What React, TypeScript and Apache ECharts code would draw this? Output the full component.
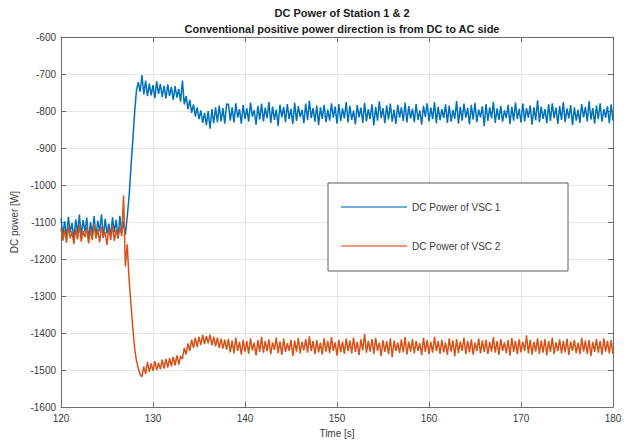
import React, { useEffect, useRef } from "react";
import * as echarts from "echarts";

const DT = 0.2;
const bluePreStart = 120.0;
const bluePre = [
  -1090, -1135, -1098, -1141, -1086, -1128, -1102, -1146, -1093, -1130,
  -1080, -1137, -1095, -1126, -1088, -1149, -1100, -1132, -1084, -1139,
  -1096, -1125, -1079, -1143, -1091, -1131, -1104, -1138, -1087, -1127,
  -1094, -1145, -1083, -1129, -1099, -1134,
];
const blueStepStart = 127.2;
const blueStep = [
  -1085, -1030, -955, -880, -805, -745, -722, -748, -703, -755,
  -718, -760, -726, -758, -730, -765, -720, -754, -727, -762,
  -732, -766, -728, -759, -735, -770, -733, -764, -740, -775,
  -718, -782, -760, -795, -770, -805, -782, -815, -790, -822,
  -798, -832, -805, -838, -800, -848, -795, -833, -790, -830,
  -785, -828, -792, -834, -781,
];
const blueSteadyStart = 138.2;
const blueSteady = [
  -782, -826, -790, -831, -779, -818, -795, -834, -784, -821,
  -793, -829, -777, -815, -798, -837, -786, -823, -780, -828,
  -791, -819, -775, -832, -788, -824, -796, -840, -783, -817,
  -789, -830, -781, -822, -794, -835, -778, -827, -787, -816,
  -797, -833, -780, -825, -772, -819, -792, -829, -785, -838,
  -790, -821, -783, -830, -796, -826, -779, -818, -788, -834,
  -781, -827, -793, -820, -776, -831, -786, -824, -799, -836,
  -784, -817, -791, -832, -778, -828, -795, -822, -782, -839,
  -789, -826, -774, -819, -792, -833, -785, -823, -780, -829,
  -796, -835, -783, -818, -790, -827, -777, -831, -787, -820,
  -794, -830, -781, -824, -798, -837, -786, -816, -779, -828,
  -791, -822, -776, -833, -788, -825, -795, -819, -782, -832,
  -785, -829, -797, -821, -773, -834, -789, -826, -780, -818,
  -792, -836, -784, -823, -778, -830, -796, -817, -787, -841,
  -781, -827, -790, -820, -775, -832, -793, -824, -786, -829,
  -798, -819, -783, -835, -789, -826, -777, -822, -794, -831,
  -780, -828, -792, -818, -785, -837, -790, -825, -771, -830,
  -788, -821, -795, -833, -782, -827, -779, -819, -791, -835,
  -786, -824, -776, -830, -793, -820, -784, -838, -790, -826,
  -797, -832, -781, -817, -789, -828, -774, -823, -792, -834,
  -785, -822, -779, -829, -795, -818, -787, -833, -782, -826,
];

const orangePreStart = 120.0;
const orangePre = [
  -1115, -1150, -1121, -1156, -1110, -1144, -1125, -1160, -1118, -1147,
  -1108, -1153, -1124, -1141, -1113, -1158, -1120, -1149, -1105, -1145,
  -1119, -1155, -1112, -1140, -1127, -1162, -1116, -1148, -1109, -1151,
  -1122, -1143, -1114, -1138,
];
const orangeStepStart = 126.8;
const orangeStep = [
  -1028, -1220, -1160, -1255, -1320, -1385, -1440, -1475, -1495, -1512,
  -1518, -1490, -1510, -1478, -1505, -1482, -1502, -1476, -1500, -1480,
  -1498, -1472, -1496, -1470, -1493, -1468, -1490, -1464, -1487, -1460,
  -1485, -1462, -1470, -1440, -1458, -1428, -1448, -1418, -1440, -1412,
  -1438, -1410, -1432, -1405, -1430, -1408, -1428, -1404, -1433, -1410,
  -1436, -1412, -1440, -1415, -1442, -1418, -1445,
];
const orangeSteadyStart = 138.2;
const orangeSteady = [
  -1416, -1452, -1420, -1455, -1413, -1448, -1424, -1458, -1418, -1450,
  -1422, -1456, -1414, -1447, -1426, -1460, -1419, -1451, -1410, -1453,
  -1421, -1449, -1417, -1457, -1425, -1446, -1412, -1454, -1423, -1459,
  -1415, -1451, -1427, -1448, -1418, -1462, -1420, -1450, -1413, -1455,
  -1424, -1447, -1416, -1453, -1409, -1449, -1422, -1457, -1419, -1452,
  -1426, -1458, -1414, -1450, -1421, -1454, -1411, -1448, -1425, -1461,
  -1418, -1452, -1423, -1456, -1415, -1449, -1420, -1455, -1412, -1451,
  -1424, -1459, -1417, -1447, -1402, -1453, -1421, -1450, -1416, -1456,
  -1413, -1448, -1426, -1462, -1419, -1451, -1422, -1457, -1414, -1465,
  -1420, -1449, -1425, -1454, -1417, -1452, -1411, -1458, -1423, -1450,
  -1416, -1455, -1421, -1448, -1427, -1460, -1413, -1451, -1419, -1457,
  -1424, -1453, -1410, -1449, -1422, -1456, -1418, -1452, -1425, -1459,
  -1414, -1450, -1420, -1463, -1416, -1454, -1423, -1448, -1412, -1457,
  -1421, -1452, -1417, -1458, -1426, -1449, -1415, -1455, -1420, -1451,
  -1418, -1456, -1424, -1450, -1411, -1453, -1422, -1459, -1416, -1448,
  -1425, -1454, -1419, -1461, -1413, -1451, -1421, -1457, -1417, -1452,
  -1423, -1449, -1406, -1455, -1418, -1458, -1424, -1450, -1414, -1456,
  -1420, -1453, -1416, -1460, -1422, -1451, -1412, -1457, -1425, -1449,
  -1417, -1455, -1421, -1452, -1415, -1459, -1423, -1448, -1419, -1454,
  -1426, -1457, -1413, -1450, -1420, -1456, -1418, -1462, -1424, -1451,
  -1416, -1453, -1422, -1458, -1414, -1450, -1421, -1455, -1419, -1457,
];

const seriesNames = ["DC Power of VSC 1", "DC Power of VSC 2"];
const titleLines = ["DC Power of Station 1 & 2", "Conventional positive power direction is from DC to AC side"];

function seg(start: number, vals: number[]): [number, number][] {
  return vals.map((v, i) => [Math.round((start + i * DT) * 100) / 100, v]);
}

const blueData = [
  ...seg(bluePreStart, bluePre),
  ...seg(blueStepStart, blueStep),
  ...seg(blueSteadyStart, blueSteady),
];
const orangeData = [
  ...seg(orangePreStart, orangePre),
  ...seg(orangeStepStart, orangeStep),
  ...seg(orangeSteadyStart, orangeSteady),
];

const FONT = "'Liberation Sans', Arial, Helvetica, sans-serif";
const AXIS_COLOR = "#6e6e6e";
const TEXT_COLOR = "#3a3a3a";
const LEGEND_ICON = "path://M0,0 L66,0 L66,1.6 L0,1.6 Z";

export default function App() {
  const ref = useRef<HTMLDivElement>(null);
  useEffect(() => {
    document.body.style.margin = "0";
    if (!ref.current) return;
    const chart = echarts.init(ref.current, undefined, { renderer: "svg" });
    const axisCommon = {
      axisLine: { show: true, lineStyle: { color: AXIS_COLOR, width: 1 } },
      axisTick: { show: true, inside: true, length: 5, lineStyle: { color: AXIS_COLOR } },
    };
    chart.setOption({
      animation: false,
      backgroundColor: "#ffffff",
      textStyle: { fontFamily: FONT },
      title: {
        text: titleLines.join("\n"),
        left: 337,
        top: 0,
        textAlign: "center",
        textStyle: {
          fontFamily: FONT,
          fontSize: 11,
          fontWeight: "bold",
          color: "#1a1a1a",
          lineHeight: 16,
        },
      },
      grid: { left: 61, right: 22, top: 37, bottom: 35, containLabel: false },
      legend: {
        orient: "vertical",
        left: 336,
        top: 197,
        z: 20,
        itemWidth: 66,
        itemHeight: 14,
        itemGap: 29,
        icon: LEGEND_ICON,
        itemStyle: { opacity: 0.75 },
        textStyle: { fontFamily: FONT, fontSize: 10, color: TEXT_COLOR },
        data: seriesNames,
        selectedMode: false,
      },
      graphic: [
        {
          type: "rect",
          shape: { x: 328, y: 183, width: 240, height: 88 },
          style: { fill: "#ffffff", stroke: "#5a5a5a", lineWidth: 1 },
          z: 3,
          silent: true,
        },
      ],
      xAxis: [
        {
          type: "value",
          min: 120,
          max: 180,
          interval: 10,
          position: "bottom",
          ...axisCommon,
          axisLabel: { fontFamily: FONT, fontSize: 10, color: TEXT_COLOR, margin: 6 },
          splitLine: { show: true, lineStyle: { color: "#e6e6e6", width: 1 } },
          name: "Time [s]",
          nameLocation: "middle",
          nameGap: 19,
          nameTextStyle: { fontFamily: FONT, fontSize: 10, color: TEXT_COLOR },
        },
        {
          type: "value",
          min: 120,
          max: 180,
          interval: 10,
          position: "top",
          ...axisCommon,
          axisLabel: { show: false },
          splitLine: { show: false },
        },
      ],
      yAxis: [
        {
          type: "value",
          min: -1600,
          max: -600,
          interval: 100,
          position: "left",
          ...axisCommon,
          axisLabel: {
            fontFamily: FONT,
            fontSize: 10,
            color: TEXT_COLOR,
            margin: 5,
            formatter: (v: number) => String(v),
          },
          splitLine: { show: true, lineStyle: { color: "#e6e6e6", width: 1 } },
          name: "DC power [W]",
          nameLocation: "middle",
          nameGap: 34,
          nameRotate: 90,
          nameTextStyle: { fontFamily: FONT, fontSize: 10, color: TEXT_COLOR },
        },
        {
          type: "value",
          min: -1600,
          max: -600,
          interval: 100,
          position: "right",
          ...axisCommon,
          axisLabel: { show: false },
          splitLine: { show: false },
        },
      ],
      series: [
        {
          name: seriesNames[0],
          type: "line",
          data: blueData,
          symbol: "none",
          showSymbol: false,
          lineStyle: { color: "#0072BD", width: 1.5 },
          itemStyle: { color: "#0072BD" },
          z: 2,
        },
        {
          name: seriesNames[1],
          type: "line",
          data: orangeData,
          symbol: "none",
          showSymbol: false,
          lineStyle: { color: "#D95319", width: 1.5 },
          itemStyle: { color: "#D95319" },
          z: 3,
        },
      ],
    });
    return () => chart.dispose();
  }, []);
  return <div ref={ref} style={{ width: 635, height: 443 }} />;
}
